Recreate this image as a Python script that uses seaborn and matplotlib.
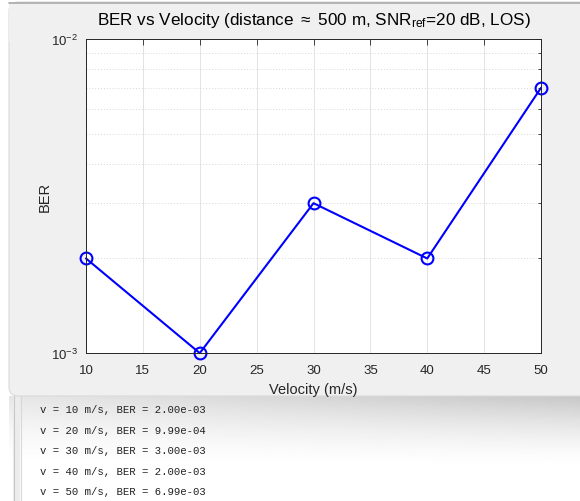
import matplotlib

matplotlib.use("Agg")
import matplotlib.pyplot as plt
import numpy as np
import pandas as pd
import seaborn as sns
from matplotlib.patches import FancyBboxPatch, Rectangle
from matplotlib.ticker import LogLocator, NullFormatter, MultipleLocator

velocity = [10, 20, 30, 40, 50]
ber = [2.00e-3, 9.99e-4, 3.00e-3, 2.00e-3, 6.99e-3]
console_lines = [
    "v = 10 m/s, BER = 2.00e-03",
    "v = 20 m/s, BER = 9.99e-04",
    "v = 30 m/s, BER = 3.00e-03",
    "v = 40 m/s, BER = 2.00e-03",
    "v = 50 m/s, BER = 6.99e-03",
]
x_ticks = [10, 15, 20, 25, 30, 35, 40, 45, 50]

df = pd.DataFrame({"Velocity": velocity, "BER": ber})

sns.set_style("white")
plt.rcParams["font.family"] = ["Liberation Sans", "DejaVu Sans"]
plt.rcParams["mathtext.fontset"] = "custom"
plt.rcParams["mathtext.rm"] = "Liberation Sans"
plt.rcParams["mathtext.it"] = "Liberation Sans"

W, H = 580, 502
fig = plt.figure(figsize=(W / 100, H / 100), dpi=100)
fig.patch.set_facecolor("white")

# background layer in pixel coordinates (window panel + console)
bg = fig.add_axes([0, 0, 1, 1], zorder=0)
bg.set_xlim(0, W)
bg.set_ylim(H, 0)
bg.axis("off")

# console shadow gradient below the figure panel
yy = np.linspace(0, 1, 80)[:, None]
xx = np.linspace(0, 1, 200)[None, :]
shade = 1 - 0.22 * (1 - yy) ** 1.6 * (0.45 + 0.55 * xx)
bg.imshow(shade, cmap="gray", vmin=0, vmax=1, extent=[9, W, 470, 397],
          aspect="auto", zorder=0)
bg.add_patch(Rectangle((13, 397), 7, H - 397, facecolor="#ececec",
                       edgecolor="none", zorder=1))
bg.plot([13.5, 13.5], [397, H], color="#c8c8c8", lw=0.8, zorder=2)
bg.plot([20.5, 20.5], [397, H], color="#d8d8d8", lw=0.8, zorder=2)

# figure panel
bg.add_patch(FancyBboxPatch((9, 3), W + 20, 394,
                            boxstyle="round,pad=0,rounding_size=9",
                            facecolor="#f0f0f0", edgecolor="#dadada",
                            lw=0.8, zorder=3))
bg.add_patch(Rectangle((9, 3), W, 40, facecolor="#f0f0f0",
                       edgecolor="none", zorder=4))
bg.plot([9, W], [3.5, 3.5], color="#a8a8a8", lw=1.2, zorder=5)

for i, line in enumerate(console_lines):
    bg.text(40, 410 + i * 20.6, line, family="Liberation Mono", fontsize=7.7,
            color="#222222", va="center", ha="left", zorder=6)

# the plot itself
ax = fig.add_axes([86 / W, 1 - 354 / H, (541 - 86) / W, (354 - 40) / H], zorder=2)
sns.lineplot(data=df, x="Velocity", y="BER", ax=ax, color="blue", lw=1.5,
             marker="o", markersize=8.5, markerfacecolor="none",
             markeredgecolor="blue", markeredgewidth=1.5)
for ln in ax.lines:
    ln.set_clip_on(False)
ax.set_yscale("log")
ax.set_xlim(10, 50)
ax.set_ylim(1e-3, 1e-2)
ax.set_xticks(x_ticks)
ax.xaxis.set_minor_locator(MultipleLocator(5))
ax.yaxis.set_major_locator(LogLocator(base=10, numticks=5))
ax.yaxis.set_minor_locator(LogLocator(base=10, subs=np.arange(2, 10), numticks=12))
ax.yaxis.set_minor_formatter(NullFormatter())

ax.set_facecolor("white")
ax.grid(True, which="major", axis="x", color="#e3e3e3", lw=0.7, ls="-")
ax.grid(True, which="minor", axis="y", color="#d8d8d8", lw=0.7, ls=(0, (1, 2)))
ax.set_axisbelow(True)
for s in ax.spines.values():
    s.set_color("#262626")
    s.set_linewidth(0.7)
ax.tick_params(which="both", direction="in", top=True, right=True,
               colors="#262626", labelsize=9.5, width=0.6)
ax.tick_params(which="major", length=4.5, pad=6)
ax.tick_params(axis="x", which="major", pad=8)
ax.tick_params(which="minor", length=2.5)
ax.tick_params(axis="x", which="minor", length=0)

ax.set_xlabel("Velocity (m/s)", fontsize=10.5, color="#262626", labelpad=4)
ax.set_ylabel("BER", fontsize=10.5, color="#262626", labelpad=-1)
ax.set_title(r"BER vs Velocity (distance $\approx$ 500 m, SNR$_{\mathrm{ref}}$=20 dB, LOS)",
             fontsize=12.3, color="black", pad=11)

fig.savefig("out.png", dpi=100)
